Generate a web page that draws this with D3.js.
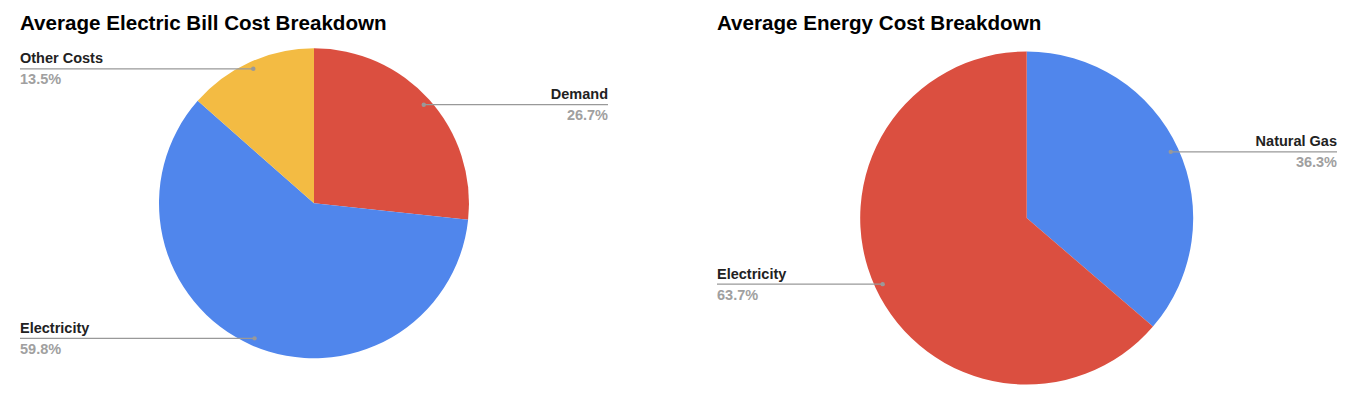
<!DOCTYPE html>
<html>
<head>
<meta charset="utf-8">
<script src="https://cdn.jsdelivr.net/npm/d3@7"></script>
<style>
  html, body { margin: 0; padding: 0; background: #fff; }
  svg { display: block; }
  text { font-family: "Liberation Sans", Arial, sans-serif; }
</style>
</head>
<body>
<svg id="chart" width="1354" height="396"></svg>
<script>
// ---- Data ----
const billTitle = "Average Electric Bill Cost Breakdown";
const billCategories = ["Demand", "Electricity", "Other Costs"];
const billValues = [26.7, 59.8, 13.5];
const billColors = ["#DB4F40", "#5086EC", "#F3BB43"];

const energyTitle = "Average Energy Cost Breakdown";
const energyCategories = ["Natural Gas", "Electricity"];
const energyValues = [36.3, 63.7];
const energyColors = ["#5086EC", "#DB4F40"];

// ---- Drawing ----
const svg = d3.select("#chart");

function drawPie(cfg) {
  const g = svg.append("g");
  g.append("text")
    .attr("x", cfg.titleX).attr("y", 29.5)
    .attr("font-size", "20.6px").attr("font-weight", "bold")
    .attr("fill", "#000")
    .text(cfg.title);

  const data = cfg.categories.map((c, i) => ({ name: c, value: cfg.values[i], color: cfg.colors[i] }));
  const pie = d3.pie().value(d => d.value).sort(null);
  const arcs = pie(data);
  const arc = d3.arc().innerRadius(0).outerRadius(cfg.r);

  const pg = g.append("g").attr("transform", `translate(${cfg.cx},${cfg.cy})`);
  pg.selectAll("path").data(arcs).enter().append("path")
    .attr("d", arc)
    .attr("fill", d => d.data.color);

  const total = d3.sum(cfg.values);
  arcs.forEach(a => {
    const mid = (a.startAngle + a.endAngle) / 2;
    const rr = cfg.r * 0.952;
    const dx = cfg.cx + rr * Math.sin(mid);
    const dy = cfg.cy - rr * Math.cos(mid);
    const right = Math.sin(mid) > 0;
    const tx = right ? cfg.rightX : cfg.leftX;
    g.append("line")
      .attr("x1", dx).attr("y1", dy).attr("x2", tx).attr("y2", dy)
      .attr("stroke", "#999").attr("stroke-width", 1.2);
    g.append("circle").attr("cx", dx).attr("cy", dy).attr("r", 2.2).attr("fill", "#999");
    g.append("text")
      .attr("x", tx).attr("y", dy - 5.5)
      .attr("text-anchor", right ? "end" : "start")
      .attr("font-size", "14.5px").attr("font-weight", "bold").attr("fill", "#222")
      .text(a.data.name);
    g.append("text")
      .attr("x", tx).attr("y", dy + 15.5)
      .attr("text-anchor", right ? "end" : "start")
      .attr("font-size", "14.5px").attr("font-weight", "bold").attr("fill", "#a0a0a0")
      .text(d3.format(".1f")(a.data.value / total * 100) + "%");
  });
}

drawPie({ title: billTitle, categories: billCategories, values: billValues, colors: billColors,
  titleX: 20, cx: 314, cy: 203.3, r: 155, leftX: 20, rightX: 608 });
drawPie({ title: energyTitle, categories: energyCategories, values: energyValues, colors: energyColors,
  titleX: 717, cx: 1026.7, cy: 218, r: 166.5, leftX: 717, rightX: 1337 });
</script>
</body>
</html>
